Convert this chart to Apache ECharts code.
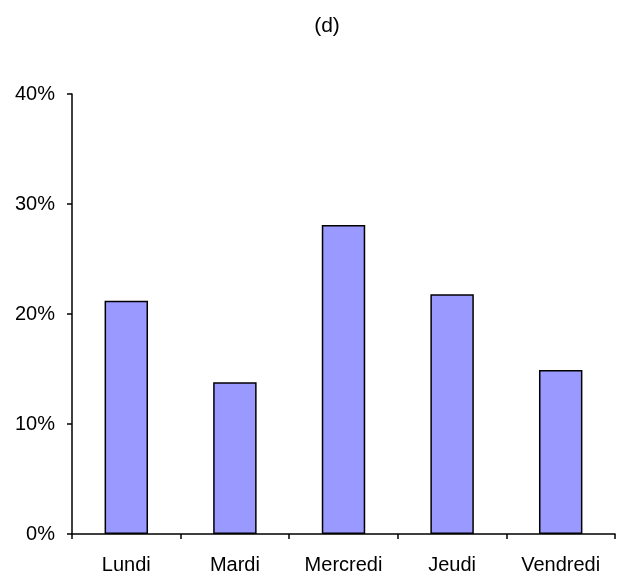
<!DOCTYPE html>
<html>
<head>
<meta charset="utf-8">
<script src="https://cdn.jsdelivr.net/npm/echarts@6/dist/echarts.min.js"></script>
<style>
    html, body { margin: 0; padding: 0; background: #fff; }
    #chart { width: 621px; height: 582px; }
</style>
</head>
<body>
<div id="chart"></div>
<script>
// Chart data
const days = ['Lundi', 'Mardi', 'Mercredi', 'Jeudi', 'Vendredi'];
const shares = [21.2, 13.8, 28.1, 21.8, 14.9];
const yTicks = [0, 10, 20, 30, 40];

const chart = echarts.init(document.getElementById('chart'), null, { renderer: 'canvas' });

const font = 'Liberation Sans, Arial, sans-serif';

const option = {
    animation: false,
    title: {
        text: '(d)',
        left: 322,
        top: 11,
        textAlign: 'center',
        textStyle: { fontFamily: font, fontSize: 21, fontWeight: 'normal', color: '#000' },
    },
    grid: {
        left: 72,
        right: 6,
        top: 94,
        bottom: 48,
        containLabel: false,
    },
    xAxis: {
        type: 'category',
        data: days,
        axisLine: { lineStyle: { color: '#000', width: 1.5 } },
        axisTick: { show: true, length: 5, lineStyle: { color: '#000', width: 1.5 } },
        axisLabel: { color: '#000', fontFamily: font, fontSize: 20, margin: 21 },
    },
    yAxis: {
        type: 'value',
        min: yTicks[0],
        max: yTicks[yTicks.length - 1],
        interval: 10,
        splitLine: { show: false },
        axisLine: { show: true, lineStyle: { color: '#000', width: 1.5 } },
        axisTick: { show: true, length: 5, lineStyle: { color: '#000', width: 1.5 } },
        axisLabel: {
            color: '#000', fontFamily: font, fontSize: 20, margin: 17,
            formatter: v => v + '%',
        },
    },
    series: [
        {
            type: 'bar',
            data: shares,
            barWidth: '40%',
            itemStyle: {
                color: '#9999FF',
                borderColor: '#000',
                borderWidth: 1.5,
            },
        },
    ],
};

chart.setOption(option);
</script>
</body>
</html>
